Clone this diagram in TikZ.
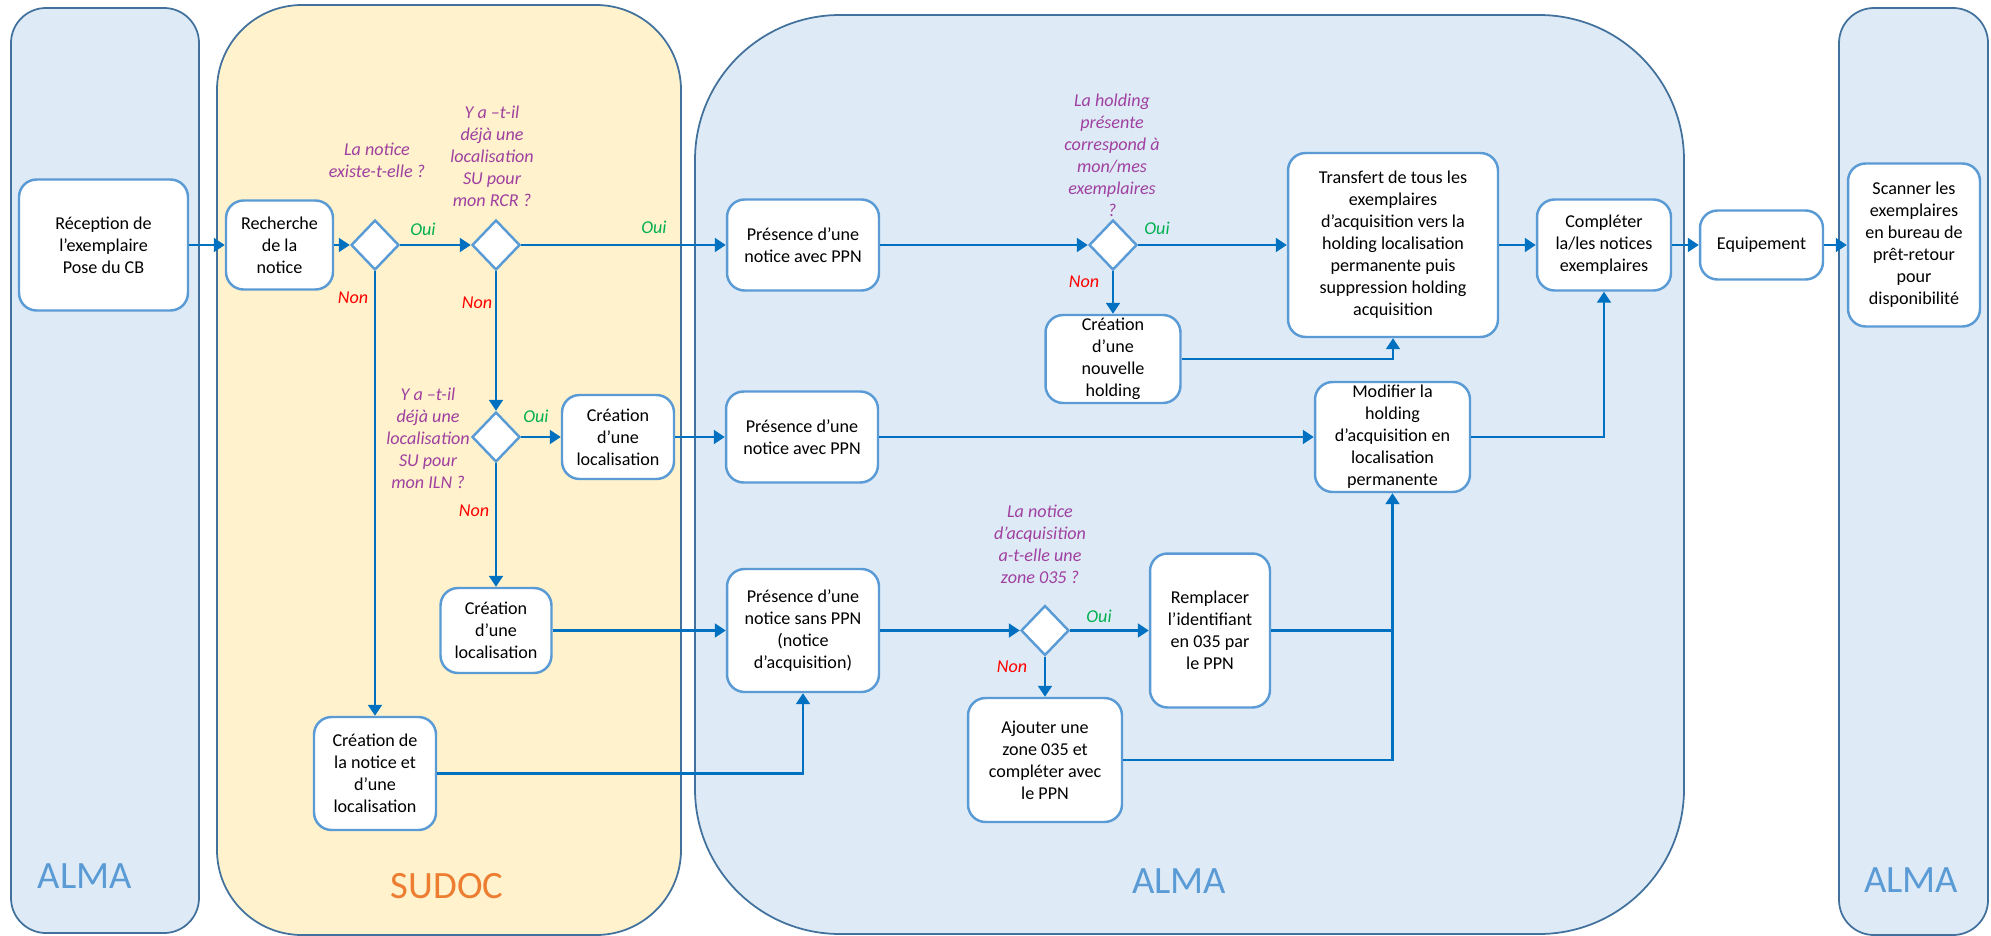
\documentclass[tikz,border=0pt]{standalone}
\usepackage{fontspec}
\setmainfont{Carlito}
\usetikzlibrary{shapes.geometric,arrows.meta}
\definecolor{lanefill}{RGB}{222,235,247}
\definecolor{sudocfill}{RGB}{255,242,204}
\definecolor{laneline}{RGB}{65,113,156}
\definecolor{boxline}{RGB}{91,155,213}
\definecolor{flechecol}{RGB}{0,112,192}
\definecolor{qcol}{RGB}{160,64,160}
\definecolor{ouicol}{RGB}{0,176,80}
\definecolor{noncol}{RGB}{255,0,0}
\definecolor{almacol}{RGB}{91,155,213}
\definecolor{sudoccol}{RGB}{237,125,49}
\begin{document}
\begin{tikzpicture}[x=0.02cm,y=-0.02cm,
lane/.style={draw=laneline,line width=1pt},
box/.style={draw=boxline,fill=white,line width=1.4pt,rounded corners=0.35cm,align=center,inner sep=0pt,font=\fontsize{10.3}{12.5}\selectfont},
choix/.style={diamond,draw=boxline,fill=white,line width=1.4pt,minimum width=0.96cm,minimum height=1cm,inner sep=0pt},
link/.style={flechecol,line width=1.2pt,-{Triangle[length=0.22cm,width=0.28cm]}},
trait/.style={flechecol,line width=1.2pt},
question/.style={text=qcol,align=center,inner sep=0pt,font=\itshape\fontsize{10.3}{12.5}\selectfont},
oui/.style={text=ouicol,inner sep=0pt,font=\itshape\fontsize{10.3}{12.5}\selectfont},
non/.style={text=noncol,inner sep=0pt,font=\itshape\fontsize{10.3}{12.5}\selectfont},
titre/.style={inner sep=0pt,font=\fontsize{22}{26}\selectfont}]
\useasboundingbox (0,0) rectangle (1991,936);
\filldraw [lane,fill=lanefill,rounded corners=0.7cm] (11,8) rectangle (199,933);
\filldraw [lane,fill=sudocfill,rounded corners=1.7cm] (217,5) rectangle (681,935);
\filldraw [lane,fill=lanefill,rounded corners=2.9cm] (695,15) rectangle (1684,934);
\filldraw [lane,fill=lanefill,rounded corners=0.7cm] (1839,8) rectangle (1988,935);
\node [titre,text=almacol] (alma1) at (85,876) {ALMA};
\node [titre,text=sudoccol] (sudoc) at (447,886) {SUDOC};
\node [titre,text=almacol] (alma2) at (1179,881) {ALMA};
\node [titre,text=almacol] (alma3) at (1911,880) {ALMA};
\node [box,minimum width=3.38cm,minimum height=2.62cm] (reception) at (103.5,245) {Réception de\\l’exemplaire\\Pose du CB};
\node [box,minimum width=2.14cm,minimum height=1.78cm] (recherche) at (279.5,245) {Recherche\\de la\\notice};
\node [choix] (existe) at (375,245) {};
\node [choix] (rcr) at (496,245) {};
\node [box,minimum width=3.04cm,minimum height=1.82cm] (presA) at (803,245) {Présence d’une\\notice avec PPN};
\node [choix] (holding) at (1113,245) {};
\node [box,minimum width=4.2cm,minimum height=3.68cm] (transfert) at (1393,245) {Transfert de tous les\\exemplaires\\d’acquisition vers la\\holding localisation\\permanente puis\\suppression holding\\acquisition};
\node [box,minimum width=2.68cm,minimum height=1.82cm] (completer) at (1604,245) {Compléter\\la/les notices\\exemplaires};
\node [box,minimum width=2.46cm,minimum height=1.38cm] (equipement) at (1761.5,245) {Equipement};
\node [box,minimum width=2.64cm,minimum height=3.26cm] (scanner) at (1914,245) {Scanner les\\exemplaires\\en bureau de\\prêt-retour\\pour\\disponibilité};
\node [box,minimum width=2.7cm,minimum height=1.76cm] (nouvelle) at (1113,359) {Création\\d’une\\nouvelle\\holding};
\node [choix] (iln) at (496,437) {};
\node [box,minimum width=2.24cm,minimum height=1.68cm] (locA) at (618,437) {Création\\d’une\\localisation};
\node [box,minimum width=3.04cm,minimum height=1.82cm] (presB) at (802,437) {Présence d’une\\notice avec PPN};
\node [box,minimum width=3.1cm,minimum height=2.2cm] (modifier) at (1392.5,437) {Modifier la\\holding\\d’acquisition en\\localisation\\permanente};
\node [box,minimum width=2.22cm,minimum height=1.7cm] (locB) at (496,630.5) {Création\\d’une\\localisation};
\node [box,minimum width=3.04cm,minimum height=2.46cm] (presC) at (803,630.5) {Présence d’une\\notice sans PPN\\(notice\\d’acquisition)};
\node [choix] (zone) at (1045,630.5) {};
\node [box,minimum width=2.4cm,minimum height=3.08cm] (remplacer) at (1210,630.5) {Remplacer\\l’identifiant\\en 035 par\\le PPN};
\node [box,minimum width=3.08cm,minimum height=2.48cm] (ajouter) at (1045,760) {Ajouter une\\zone 035 et\\compléter avec\\le PPN};
\node [box,minimum width=2.44cm,minimum height=2.26cm] (creation) at (375,773.5) {Création de\\la notice et\\d’une\\localisation};
\node [question] (qexiste) at (377,160) {La notice\\existe-t-elle ?};
\node [question] (qrcr) at (492,156) {Y a –t-il\\déjà une\\localisation\\SU pour\\mon RCR ?};
\node [question] (qholding) at (1112,155) {La holding\\présente\\correspond à\\mon/mes\\exemplaires\\?};
\node [question] (qiln) at (428,438) {Y a –t-il\\déjà une\\localisation\\SU pour\\mon ILN ?};
\node [question] (qzone) at (1040,544) {La notice\\d’acquisition\\a-t-elle une\\zone 035 ?};
\node [oui] (oui1) at (423,229) {Oui};
\node [oui] (oui2) at (654,227) {Oui};
\node [oui] (oui3) at (1157,228) {Oui};
\node [oui] (oui4) at (536,416) {Oui};
\node [oui] (oui5) at (1099,616) {Oui};
\node [non] (non1) at (353,298) {Non};
\node [non] (non2) at (477,303) {Non};
\node [non] (non3) at (1084,282) {Non};
\node [non] (non4) at (474,511) {Non};
\node [non] (non5) at (1012,667) {Non};
\draw [link] (reception.east) -- (recherche.west);
\draw [link] (recherche.east) -- (existe.west);
\draw [link] (existe.east) -- (rcr.west);
\draw [link] (rcr.east) -- (presA.west);
\draw [link] (presA.east) -- (holding.west);
\draw [link] (holding.east) -- (transfert.west);
\draw [link] (transfert.east) -- (completer.west);
\draw [link] (completer.east) -- (equipement.west);
\draw [link] (equipement.east) -- (scanner.west);
\draw [link] (holding.south) -- (nouvelle.north);
\draw [link] (nouvelle.east) -| (transfert.south);
\draw [link] (existe.south) -- (creation.north);
\draw [link] (rcr.south) -- (iln.north);
\draw [link] (iln.east) -- (locA.west);
\draw [link] (locA.east) -- (presB.west);
\draw [link] (presB.east) -- (modifier.west);
\draw [link] (modifier.east) -| (completer.south);
\draw [link] (iln.south) -- (locB.north);
\draw [link] (locB.east) -- (presC.west);
\draw [link] (creation.east) -| (presC.south);
\draw [link] (presC.east) -- (zone.west);
\draw [link] (zone.east) -- (remplacer.west);
\draw [link] (zone.south) -- (ajouter.north);
\draw [trait] (remplacer.east) -- (remplacer.east -| modifier.south);
\draw [link] (ajouter.east) -| (modifier.south);
\end{tikzpicture}
\end{document}
